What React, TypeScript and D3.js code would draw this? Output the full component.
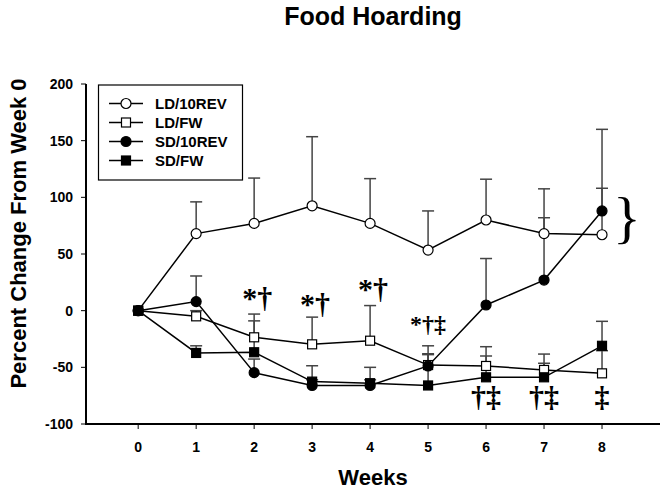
import React from "react";
import * as d3 from "d3";

const weeks = [0, 1, 2, 3, 4, 5, 6, 7, 8];
const yTicks = [-100, -50, 0, 50, 100, 150, 200];

const seriesNames = ["LD/10REV", "LD/FW", "SD/10REV", "SD/FW"];
const ld10rev = [0, 68, 77, 92.5, 77, 53.5, 80, 68, 67];
const ld10revErr = [0, 28, 40, 61, 39.5, 34.5, 36, 39.5, 41];
const ldfw = [0, -5, -23.5, -29.7, -26.5, -48, -48.8, -52.3, -55.3];
const ldfwErr = [0, 5, 20.5, 24, 31, 10, 17, 14, 20];
const sd10rev = [0, 8, -54.7, -66, -66, -48.8, 5, 27, 88];
const sd10revErr = [0, 22.6, 12, 5, 5, 10, 41, 55, 72];
const sdfw = [0, -37.3, -36.7, -62.6, -64, -66, -58.8, -58.8, -31];
const sdfwErr = [0, 6.3, 27.7, 14, 14, 35, 18.8, 12.4, 21.6];

// significance annotations: week, text, value of baseline, small group flag
const annoWeeks = [2, 3, 4, 5, 6, 7, 8];
const annoText = ["*†", "*†", "*†", "*†‡", "†‡", "†‡", "‡"];
const annoValue = [2.4, -3, 10, -19, -85, -85, -85];
const annoSmall = [false, false, false, true, false, false, false];

const W = 664;
const H = 491;
const left = 86;
const right = 660;
const top = 84;
const bottom = 424;

type Marker = "circle" | "square";

export default function App() {
  const x = d3.scaleLinear().domain([-0.9, 9]).range([left, right]);
  const y = d3.scaleLinear().domain([-100, 200]).range([bottom, top]);

  const series: { name: string; vals: number[]; err: number[]; marker: Marker; filled: boolean }[] = [
    { name: seriesNames[0], vals: ld10rev, err: ld10revErr, marker: "circle", filled: false },
    { name: seriesNames[1], vals: ldfw, err: ldfwErr, marker: "square", filled: false },
    { name: seriesNames[2], vals: sd10rev, err: sd10revErr, marker: "circle", filled: true },
    { name: seriesNames[3], vals: sdfw, err: sdfwErr, marker: "square", filled: true },
  ];

  const line = d3
    .line<number>()
    .x((_, i) => x(weeks[i]))
    .y((d) => y(d));

  const drawMarker = (m: Marker, filled: boolean, cx: number, cy: number, key: string) =>
    m === "circle" ? (
      <circle key={key} cx={cx} cy={cy} r={5} fill={filled ? "#000" : "#fff"} stroke="#000" strokeWidth={1.2} />
    ) : (
      <rect key={key} x={cx - 4.5} y={cy - 4.5} width={9} height={9} fill={filled ? "#000" : "#fff"} stroke="#000" strokeWidth={1.2} />
    );

  const font = "'Liberation Sans', Arial, sans-serif";
  const serif = "'Liberation Serif', 'Times New Roman', serif";

  const legendX0 = 109;
  const legendX1 = 143;
  const legendYs = [103.5, 122.5, 141.5, 160.5];

  return (
    <svg width={W} height={H} style={{ position: "absolute", left: 0, top: 0, background: "#fff" }}>
      <rect x={0} y={0} width={W} height={H} fill="#fff" />
      <text x={(left + right) / 2} y={25} textAnchor="middle" fontFamily={font} fontWeight="bold" fontSize={25}>
        Food Hoarding
      </text>

      {/* error bars */}
      {series.map((s, si) =>
        s.vals.map((v, i) =>
          s.err[i] > 0 ? (
            <g key={`e${si}-${i}`} stroke="#444" strokeWidth={1.5}>
              <line x1={x(weeks[i])} x2={x(weeks[i])} y1={y(v)} y2={y(v + s.err[i])} />
              <line x1={x(weeks[i]) - 6} x2={x(weeks[i]) + 6} y1={y(v + s.err[i])} y2={y(v + s.err[i])} />
            </g>
          ) : null
        )
      )}

      {/* lines */}
      {series.map((s, si) => (
        <path key={`l${si}`} d={line(s.vals) || ""} fill="none" stroke="#000" strokeWidth={1.5} />
      ))}

      {/* markers */}
      {series.map((s, si) => s.vals.map((v, i) => drawMarker(s.marker, s.filled, x(weeks[i]), y(v), `m${si}-${i}`)))}

      {/* axes */}
      <line x1={left} x2={left} y1={top} y2={bottom + 1} stroke="#000" strokeWidth={2} />
      <line x1={left - 1} x2={right} y1={bottom} y2={bottom} stroke="#000" strokeWidth={2} />
      {yTicks.map((t) => (
        <g key={`yt${t}`}>
          <line x1={left - 5} x2={left} y1={y(t)} y2={y(t)} stroke="#000" strokeWidth={1} />
          <text x={left - 13} y={y(t) + 5} textAnchor="end" fontFamily={font} fontWeight="bold" fontSize={14}>
            {t}
          </text>
        </g>
      ))}
      {weeks.map((w) => (
        <g key={`xt${w}`}>
          <line x1={x(w)} x2={x(w)} y1={bottom} y2={bottom + 5} stroke="#000" strokeWidth={1} />
          <text x={x(w)} y={451.5} textAnchor="middle" fontFamily={font} fontWeight="bold" fontSize={14}>
            {w}
          </text>
        </g>
      ))}
      <text x={(left + right) / 2} y={485} textAnchor="middle" fontFamily={font} fontWeight="bold" fontSize={22}>
        Weeks
      </text>
      <text
        transform={`translate(26, ${233.5}) rotate(-90)`}
        textAnchor="middle"
        fontFamily={font}
        fontWeight="bold"
        fontSize={22}
      >
        Percent Change From Week 0
      </text>

      {/* legend */}
      <rect x={98.5} y={85} width={144} height={95} fill="#fff" stroke="#000" strokeWidth={1.2} />
      {series.map((s, si) => (
        <g key={`lg${si}`}>
          <line x1={legendX0} x2={legendX1} y1={legendYs[si]} y2={legendYs[si]} stroke="#000" strokeWidth={1.5} />
          {drawMarker(s.marker, s.filled, (legendX0 + legendX1) / 2, legendYs[si], `lm${si}`)}
          <text x={155} y={legendYs[si] + 5} fontFamily={font} fontWeight="bold" fontSize={15}>
            {s.name}
          </text>
        </g>
      ))}

      {/* annotations */}
      {annoWeeks.map((w, i) => (
        <text
          key={`a${i}`}
          x={x(w) + (annoText[i] === "*†" ? 3 : 0)}
          y={y(annoValue[i])}
          textAnchor="middle"
          fontFamily={serif}
          fontWeight="bold"
          fontSize={annoSmall[i] ? 24 : 30}
        >
          {annoText[i]}
        </text>
      ))}

      {/* brace */}
      <text x={627} y={y(65)} textAnchor="middle" fontFamily={serif} fontSize={58}>
        {"}"}
      </text>
    </svg>
  );
}
